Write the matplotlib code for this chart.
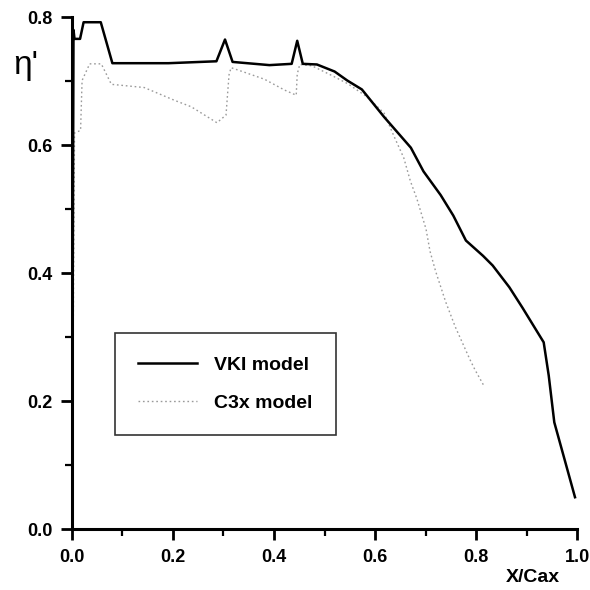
import matplotlib
matplotlib.use('Agg')
import matplotlib.pyplot as plt
from matplotlib.ticker import MultipleLocator, FormatStrFormatter

plt.rcParams['font.family'] = ['Liberation Sans', 'DejaVu Sans']
plt.rcParams['font.weight'] = 'bold'

# VKI model (solid)
vki_x = [0.0, 0.003, 0.005, 0.016, 0.023, 0.057, 0.080, 0.191, 0.286, 0.303, 0.318,
         0.391, 0.435, 0.446, 0.457, 0.485, 0.520, 0.545, 0.574, 0.618, 0.671,
         0.696, 0.730, 0.755, 0.780, 0.814, 0.833, 0.866, 0.892, 0.934, 0.944,
         0.955, 0.975, 0.996]
vki_y = [0.0, 0.78, 0.766, 0.766, 0.792, 0.792, 0.728, 0.728, 0.731, 0.765, 0.730,
         0.725, 0.727, 0.763, 0.727, 0.726, 0.715, 0.701, 0.687, 0.644, 0.596,
         0.559, 0.522, 0.490, 0.451, 0.427, 0.412, 0.378, 0.346, 0.292, 0.240,
         0.167, 0.110, 0.050]

# C3x model (dotted)
c3x_x = [0.0, 0.005, 0.017, 0.020, 0.035, 0.058, 0.078, 0.143, 0.203, 0.236, 0.287,
         0.305, 0.308, 0.311, 0.315, 0.341, 0.381, 0.421, 0.444, 0.446, 0.451,
         0.475, 0.514, 0.546, 0.585, 0.618, 0.637, 0.657, 0.670, 0.683, 0.701,
         0.709, 0.720, 0.740, 0.759, 0.788, 0.798, 0.815]
c3x_y = [0.0, 0.619, 0.623, 0.701, 0.727, 0.727, 0.695, 0.690, 0.670, 0.660, 0.635,
         0.647, 0.679, 0.710, 0.721, 0.714, 0.703, 0.686, 0.678, 0.711, 0.726,
         0.724, 0.709, 0.696, 0.675, 0.650, 0.615, 0.580, 0.544, 0.516, 0.469,
         0.434, 0.403, 0.355, 0.316, 0.265, 0.249, 0.225]

x_ticks = [0.0, 0.2, 0.4, 0.6, 0.8, 1.0]
y_ticks = [0.0, 0.2, 0.4, 0.6, 0.8]

fig = plt.figure(figsize=(5.9, 5.9), dpi=100)
ax = fig.add_axes([0.122, 0.103, 0.856, 0.868])

ax.plot(c3x_x, c3x_y, color='#9a9a9a', linewidth=1.0, linestyle=(0, (1.2, 2.0)),
        label='C3x model', zorder=2)
ax.plot(vki_x, vki_y, color='black', linewidth=1.8, label='VKI model', zorder=3)

ax.set_xlim(0, 1.0)
ax.set_ylim(0, 0.8)
ax.set_xticks(x_ticks)
ax.set_yticks(y_ticks)
ax.xaxis.set_minor_locator(MultipleLocator(0.1))
ax.yaxis.set_minor_locator(MultipleLocator(0.1))
ax.xaxis.set_major_formatter(FormatStrFormatter('%.1f'))
ax.yaxis.set_major_formatter(FormatStrFormatter('%.1f'))

for s in ['top', 'right']:
    ax.spines[s].set_visible(False)
for s in ['left', 'bottom']:
    ax.spines[s].set_linewidth(2.2)

ax.tick_params(which='major', direction='out', length=8, width=2, labelsize=13, pad=6)
ax.tick_params(which='minor', direction='out', length=5, width=1.6)
for lab in ax.get_xticklabels() + ax.get_yticklabels():
    lab.set_fontweight('bold')

# y label (eta) sits beside the top of the axis
ax.text(-0.117, 0.905, "η'", transform=ax.transAxes, fontsize=24,
        fontweight='normal', ha='left', va='center')
ax.text(0.86, -0.095, 'X/Cax', transform=ax.transAxes, fontsize=14,
        fontweight='bold', ha='left', va='center')

handles, labels = ax.get_legend_handles_labels()
leg = ax.legend(handles[::-1], labels[::-1], loc='center left',
                bbox_to_anchor=(0.085, 0.283), fontsize=14, frameon=True,
                fancybox=False, edgecolor='black', handlelength=3.0,
                handletextpad=0.9, borderpad=1.2, labelspacing=1.05,
                borderaxespad=0)
leg.get_frame().set_linewidth(1.2)
for t in leg.get_texts():
    t.set_fontweight('bold')

fig.savefig('out.png', dpi=100)
